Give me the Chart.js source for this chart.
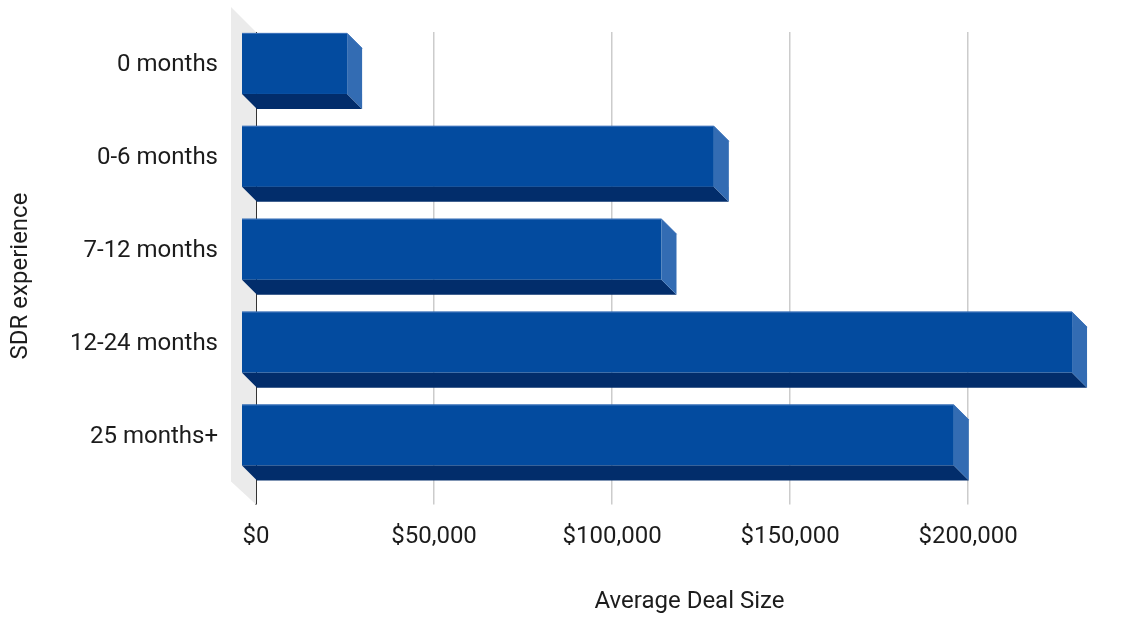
<!DOCTYPE html>
<html>
<head>
<meta charset="utf-8">
<script src="https://cdn.jsdelivr.net/npm/chart.js@4.4.1/dist/chart.umd.min.js"></script>
<style>
  body { margin: 0; background: #ffffff; }
  #wrap { width: 1140px; height: 617px; position: relative; }
</style>
</head>
<body>
<div id="wrap"><canvas id="dealChart"></canvas></div>
<script>
const experience = ['0 months', '0-6 months', '7-12 months', '12-24 months', '25 months+'];
const avgDealSize = [29800, 132800, 118100, 233400, 200200];
const tickValues = [0, 50000, 100000, 150000, 200000];

const frontColor = '#034b9f';
const edgeColor = '#3f74bb';
const bottomColor = '#022d6b';
const sideColor = '#336cb3';
const wallColor = '#ebebeb';
const textColor = '#1c1c1c';
const depth = 15;

// grey side wall behind the category axis
const wallPlugin = {
  id: 'wall',
  beforeDatasetsDraw(chart) {
    const { ctx, chartArea } = chart;
    const l = chartArea.left, t = chartArea.top, b = chartArea.bottom + 8;
    ctx.save();
    ctx.fillStyle = wallColor;
    ctx.beginPath();
    ctx.moveTo(l - 25, t - 25);
    ctx.lineTo(l, t);
    ctx.lineTo(l, b);
    ctx.lineTo(l - 25, b - 23);
    ctx.closePath();
    ctx.fill();
    ctx.restore();
  }
};

// draws each bar as a box: front, bottom and right faces
const boxPlugin = {
  id: 'boxBars',
  beforeDatasetsDraw(chart) {
    const { ctx } = chart;
    const meta = chart.getDatasetMeta(0);
    ctx.save();
    meta.data.forEach((bar) => {
      const p = bar.getProps(['x', 'y', 'base', 'height'], true);
      const top = p.y - p.height / 2;
      const bottom = p.y + p.height / 2;
      const x0 = p.base, x1 = p.x;

      ctx.fillStyle = frontColor;
      ctx.fillRect(x0 - depth, top - depth, x1 - x0, p.height);

      ctx.fillStyle = bottomColor;
      ctx.beginPath();
      ctx.moveTo(x0 - depth, bottom - depth);
      ctx.lineTo(x1 - depth, bottom - depth);
      ctx.lineTo(x1, bottom);
      ctx.lineTo(x0, bottom);
      ctx.closePath();
      ctx.fill();

      ctx.fillStyle = sideColor;
      ctx.beginPath();
      ctx.moveTo(x1 - depth, top - depth);
      ctx.lineTo(x1, top);
      ctx.lineTo(x1, bottom);
      ctx.lineTo(x1 - depth, bottom - depth);
      ctx.closePath();
      ctx.fill();

      // thin light edge along the top of the box
      ctx.strokeStyle = edgeColor;
      ctx.lineWidth = 1;
      ctx.beginPath();
      ctx.moveTo(x0 - depth, top - depth + 0.5);
      ctx.lineTo(x1 - depth, top - depth + 0.5);
      ctx.lineTo(x1, top + 0.5);
      ctx.stroke();
    });
    ctx.restore();
    return false;
  }
};

const axisTitles = {
  id: 'axisTitles',
  afterDraw(chart) {
    const { ctx } = chart;
    ctx.save();
    ctx.fillStyle = textColor;
    ctx.font = '24px Roboto';
    ctx.textAlign = 'center';
    ctx.textBaseline = 'middle';
    ctx.fillText('Average Deal Size', 689.5, 602);
    ctx.translate(21, 276);
    ctx.rotate(-Math.PI / 2);
    ctx.fillText('SDR experience', 0, 0);
    ctx.restore();
  }
};

const ctx = document.getElementById('dealChart').getContext('2d');
const dealChart = new Chart(ctx, {
  type: 'bar',
  data: {
    labels: experience,
    datasets: [{
      label: 'Average Deal Size',
      data: avgDealSize,
      backgroundColor: frontColor,
      categoryPercentage: 1,
      barPercentage: 0.657
    }]
  },
  options: {
    indexAxis: 'y',
    responsive: true,
    maintainAspectRatio: false,
    animation: false,
    layout: { padding: { top: 32, right: 17, bottom: 0, left: 0 } },
    plugins: {
      legend: { display: false },
      tooltip: { enabled: false }
    },
    scales: {
      x: {
        min: 0,
        max: 243500,
        afterFit(scale) { scale.height = 120.5; },
        afterBuildTicks(scale) { scale.ticks = tickValues.map((v) => ({ value: v })); },
        border: { display: false },
        grid: {
          color: (c) => (c.tick && c.tick.value === 0 ? '#333333' : '#cccccc'),
          lineWidth: (c) => (c.tick && c.tick.value === 0 ? 2 : 1.5),
          drawTicks: true,
          tickLength: 8
        },
        ticks: {
          padding: 18,
          color: textColor,
          font: { family: 'Roboto', size: 24 },
          callback: (v) => '$' + Number(v).toLocaleString('en-US')
        }
      },
      y: {
        afterFit(scale) {
          scale.width = 256;
          scale.paddingTop = 0;
          scale.paddingBottom = 0;
        },
        border: { display: false },
        grid: { display: false, drawTicks: false },
        ticks: {
          padding: 38,
          labelOffset: -13,
          color: textColor,
          font: { family: 'Roboto', size: 24 }
        }
      }
    }
  },
  plugins: [wallPlugin, boxPlugin, axisTitles]
});
</script>
</body>
</html>
